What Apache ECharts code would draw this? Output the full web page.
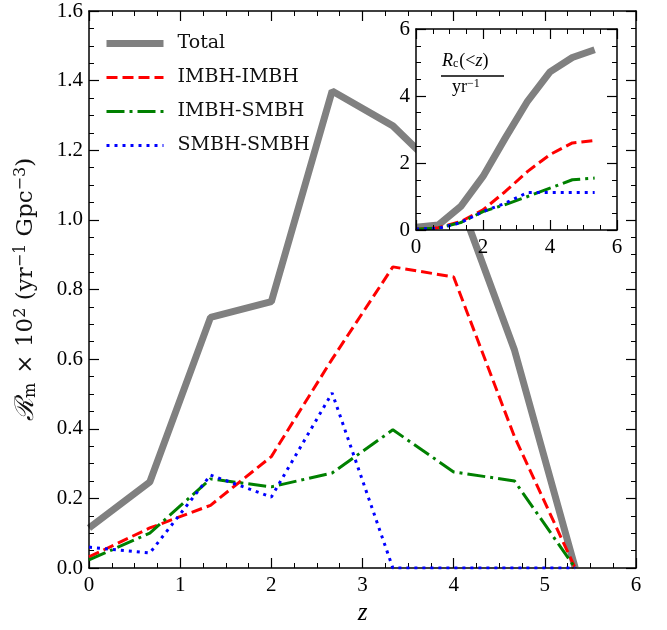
<!DOCTYPE html>
<html><head><meta charset="utf-8">
<script src="https://cdn.jsdelivr.net/npm/echarts@6/dist/echarts.min.js"></script>
<style>html,body{margin:0;padding:0;background:#fff}#c{width:667px;height:630px}</style>
</head><body><div id="c"></div>
<script>
// redshift bins
const zBins = [0, 0.667, 1.333, 2, 2.667, 3.333, 4, 4.667, 5.333];
// merger rate density (x 10^2 yr^-1 Gpc^-3)
const total    = [0.115, 0.247, 0.72, 0.765, 1.37, 1.27, 1.10, 0.626, 0.0];
const imbhImbh = [0.032, 0.115, 0.18, 0.32, 0.60, 0.865, 0.836, 0.377, 0.0];
const imbhSmbh = [0.023, 0.10, 0.256, 0.233, 0.273, 0.397, 0.276, 0.25, 0.0];
const smbhSmbh = [0.06, 0.043, 0.267, 0.204, 0.503, 0.0, 0.0, 0.0, 0.0];
// inset: cumulative rate R_c(<z) (yr^-1)
const cumTotal    = [0.08, 0.15, 0.70, 1.60, 2.75, 3.85, 4.72, 5.15, 5.38];
const cumImbhImbh = [0.02, 0.07, 0.25, 0.60, 1.15, 1.75, 2.25, 2.60, 2.67];
const cumImbhSmbh = [0.02, 0.06, 0.22, 0.55, 0.76, 1.00, 1.25, 1.50, 1.55];
const cumSmbhSmbh = [0.03, 0.05, 0.22, 0.55, 0.80, 1.12, 1.12, 1.12, 1.12];
const names = ['Total', 'IMBH-IMBH', 'IMBH-SMBH', 'SMBH-SMBH'];

const serif = 'Liberation Serif';
const serif2 = 'DejaVu Serif';
const pair = arr => arr.map((v, i) => [zBins[i], v]);
const styles = [
  {color: '#808080', width: 7, type: 'solid'},
  {color: '#ff0000', width: 3, type: [11, 5]},
  {color: '#008000', width: 3, type: [18, 5, 3, 5]},
  {color: '#0000ff', width: 3, type: [3, 5]}
];

function axis(kind, grid, pos, min, max, interval, showLabel, extra) {
  return Object.assign({
    type: 'value', gridIndex: grid, position: pos, min: min, max: max, interval: interval,
    axisLine: {show: true, onZero: false, lineStyle: {color: '#000', width: 1.5}},
    axisTick: {show: true, inside: true, length: 10, lineStyle: {color: '#000', width: 1.2}},
    minorTick: {show: true, splitNumber: 4, length: 5, lineStyle: {color: '#000', width: 1}},
    axisLabel: {show: showLabel, color: '#000', fontFamily: serif, fontSize: 21, margin: kind === 'x' ? 7 : 6},
    splitLine: {show: false}, minorSplitLine: {show: false}, z: grid === 1 ? 12 : 3
  }, extra || {});
}

const mainSeries = [total, imbhImbh, imbhSmbh, smbhSmbh].map((arr, i) => ({
  name: names[i], type: 'line', xAxisIndex: 0, yAxisIndex: 0, data: pair(arr),
  symbol: 'none', lineStyle: styles[i], color: styles[i].color, z: 2 + (i === 0 ? 0 : 1),
  animation: false, silent: true
}));
const insetSeries = [cumTotal, cumImbhImbh, cumImbhSmbh, cumSmbhSmbh].map((arr, i) => ({
  name: names[i] + ' cum', type: 'line', xAxisIndex: 2, yAxisIndex: 2, data: pair(arr),
  symbol: 'none', lineStyle: styles[i], color: styles[i].color, z: 11,
  animation: false, silent: true
}));

const chart = echarts.init(document.getElementById('c'), null, {renderer: 'canvas'});
chart.setOption({
  backgroundColor: '#fff',
  animation: false,
  grid: [
    {left: 89, right: 31, top: 11, bottom: 62, outerBoundsMode: 'none'},
    {left: 416, width: 201, top: 29, height: 201, show: true, backgroundColor: '#fff', borderWidth: 0, z: 10, outerBoundsMode: 'none'}
  ],
  legend: {
    data: names, orient: 'vertical', left: 98, top: 29, itemWidth: 57, itemHeight: 14, itemGap: 15,
    itemStyle: {opacity: 0},
    lineStyle: {width: 'inherit', type: 'inherit'},
    textStyle: {fontFamily: serif2, fontSize: 19, color: '#111', padding: [0, 0, 0, 9]},
    selectedMode: false
  },
  xAxis: [
    axis('x', 0, 'bottom', 0, 6, 1, true, {
      name: 'z', nameLocation: 'middle', nameGap: 29,
      nameTextStyle: {fontFamily: serif, fontStyle: 'italic', fontSize: 25, color: '#000'}
    }),
    axis('x', 0, 'top', 0, 6, 1, false),
    axis('x', 1, 'bottom', 0, 6, 2, true),
    axis('x', 1, 'top', 0, 6, 2, false)
  ],
  yAxis: [
    axis('y', 0, 'left', 0, 1.6, 0.2, true, {
      axisLabel: {color: '#000', fontFamily: serif, fontSize: 21, margin: 6, formatter: v => v.toFixed(1)},
      name: '{c|ℛ}{s|m}{n| × 10}{p|2}{n| (yr}{p|−1}{n| Gpc}{p|−3}{n|)}',
      nameLocation: 'middle', nameGap: 50, nameRotate: 90,
      nameTextStyle: {
        fontFamily: serif2, fontSize: 23, color: '#111',
        rich: {
          c: {fontFamily: serif2, fontStyle: 'italic', fontSize: 26, color: '#111'},
          s: {fontFamily: serif2, fontSize: 16, color: '#111', verticalAlign: 'bottom', padding: [10, 2, 0, 0]},
          n: {fontFamily: serif2, fontSize: 23, color: '#111'},
          p: {fontFamily: serif2, fontSize: 16, color: '#111', verticalAlign: 'top', padding: [0, 0, 10, 0]}
        }
      }
    }),
    axis('y', 0, 'right', 0, 1.6, 0.2, false),
    axis('y', 1, 'left', 0, 6, 2, true),
    axis('y', 1, 'right', 0, 6, 2, false)
  ],
  graphic: [
    {type: 'text', z: 30, left: 442, top: 52, style: {
      text: '{i|R}{s|c}{n|(<}{i|z}{n|)}', fill: '#000',
      rich: {
        i: {fontFamily: serif, fontStyle: 'italic', fontSize: 18, fill: '#000'},
        s: {fontFamily: serif, fontSize: 12, fill: '#000', verticalAlign: 'bottom', padding: [6, 1, 0, 0]},
        n: {fontFamily: serif, fontSize: 18, fill: '#000'}
      }}},
    {type: 'line', z: 30, shape: {x1: 441, y1: 76, x2: 504, y2: 76}, style: {stroke: '#000', lineWidth: 1.3}},
    {type: 'text', z: 30, left: 452, top: 78, style: {
      text: '{n|yr}{p|−1}', fill: '#000',
      rich: {
        n: {fontFamily: serif, fontSize: 18, fill: '#000'},
        p: {fontFamily: serif, fontSize: 12, fill: '#000', verticalAlign: 'top', padding: [0, 0, 6, 0]}
      }}}
  ],
  series: mainSeries.concat(insetSeries)
});
</script></body></html>
